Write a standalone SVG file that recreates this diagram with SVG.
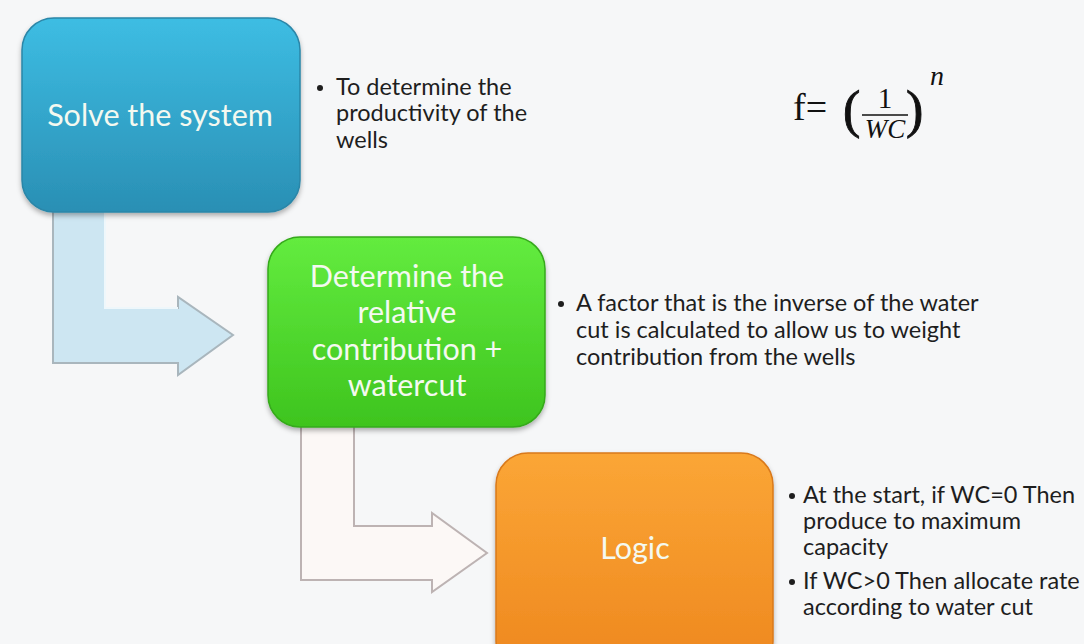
<svg xmlns="http://www.w3.org/2000/svg" width="1084" height="644" viewBox="0 0 1084 644">
<defs>
<linearGradient id="gBlue" x1="0" y1="0" x2="0" y2="1"><stop offset="0" stop-color="#3dbde3"/><stop offset="1" stop-color="#2a8fb4"/></linearGradient>
<linearGradient id="gGreen" x1="0" y1="0" x2="0" y2="1"><stop offset="0" stop-color="#63ec3f"/><stop offset="1" stop-color="#3ec41e"/></linearGradient>
<linearGradient id="gOrange" x1="0" y1="0" x2="0" y2="1"><stop offset="0" stop-color="#fba636"/><stop offset="1" stop-color="#ee871e"/></linearGradient>
<filter id="sh" x="-10%" y="-10%" width="120%" height="130%"><feDropShadow dx="0" dy="3" stdDeviation="2.5" flood-color="#000" flood-opacity="0.3"/></filter>
<style>
.box{filter:url(#sh);}
.lbl{font-family:Lato,"Liberation Sans",sans-serif;font-size:30.5px;fill:#f4f9f0;text-anchor:middle;}
.bul{font-family:Lato,"Liberation Sans",sans-serif;font-size:23.5px;fill:#1e1e1e;}
.math{font-family:"Liberation Serif","DejaVu Serif",serif;fill:#111;}
.par{stroke:#111;stroke-width:0.9;}
.arr{stroke-width:2;stroke-linejoin:miter;}
</style>
</defs>
<rect width="1084" height="644" fill="#f6f7f8"/>
<g id="connectors">
<path class="arr" d="M53,205 L105,205 L105,308 L178,308 L178,297 L233,335 L178,375 L178,363 L53,363 Z" fill="#cde6f2" stroke="#a9b6bd"/>
<path d="M105,205 L105,308 L178,308" fill="none" stroke="#eef7fb" stroke-width="2"/>
<path class="arr" d="M301,425 L354,425 L354,526 L432,526 L432,513 L487,553 L432,592 L432,580 L301,580 Z" fill="#fcf8f6" stroke="#bdb3b3"/>
</g>
<g id="node-solve">
<rect class="box" x="22" y="18" width="278" height="194" rx="32" fill="url(#gBlue)" stroke="#2a86a8" stroke-width="1.5"/>
<text class="lbl" x="160" y="126">Solve the system</text>
</g>
<g id="node-determine">
<rect class="box" x="268" y="237" width="277" height="190" rx="32" fill="url(#gGreen)" stroke="#35a91a" stroke-width="1.5"/>
<text class="lbl" x="407" y="287">Determine the</text>
<text class="lbl" x="407" y="323">relative</text>
<text class="lbl" x="407" y="360">contribution +</text>
<text class="lbl" x="407" y="396">watercut</text>
</g>
<g id="node-logic">
<rect class="box" x="496" y="453" width="277" height="220" rx="32" fill="url(#gOrange)" stroke="#d9791a" stroke-width="1.5"/>
<text class="lbl" x="635" y="559">Logic</text>
</g>
<g id="bullets-1">
<circle cx="320" cy="88" r="3" fill="#1e1e1e"/>
<text class="bul" x="336" y="95">To determine the</text>
<text class="bul" x="336" y="121">productivity of the</text>
<text class="bul" x="336" y="148">wells</text>
</g>
<g id="bullets-2">
<circle cx="561" cy="304" r="3" fill="#1e1e1e"/>
<text class="bul" x="576" y="311">A factor that is the inverse of the water</text>
<text class="bul" x="576" y="338">cut is calculated to allow us to weight</text>
<text class="bul" x="576" y="365">contribution from the wells</text>
</g>
<g id="bullets-3">
<circle cx="792" cy="496" r="3" fill="#1e1e1e"/>
<text class="bul" x="803" y="503">At the start, if WC=0 Then</text>
<text class="bul" x="803" y="529">produce to maximum</text>
<text class="bul" x="803" y="555">capacity</text>
<circle cx="792" cy="582" r="3" fill="#1e1e1e"/>
<text class="bul" x="803" y="589">If WC&gt;0 Then allocate rate</text>
<text class="bul" x="803" y="615">according to water cut</text>
</g>
<g id="formula">
<text class="math" x="793" y="120" font-size="38">f=</text>
<text class="math par" x="843" y="127" font-size="52">(</text>
<text class="math" x="885" y="108" font-size="29" text-anchor="middle">1</text>
<line x1="862" y1="115" x2="908" y2="115" stroke="#111" stroke-width="1.5"/>
<text class="math" x="885" y="138" font-size="27" font-style="italic" text-anchor="middle">WC</text>
<text class="math par" x="906" y="127" font-size="52">)</text>
<text class="math" x="930" y="85" font-size="28" font-style="italic">n</text>
</g>
</svg>
